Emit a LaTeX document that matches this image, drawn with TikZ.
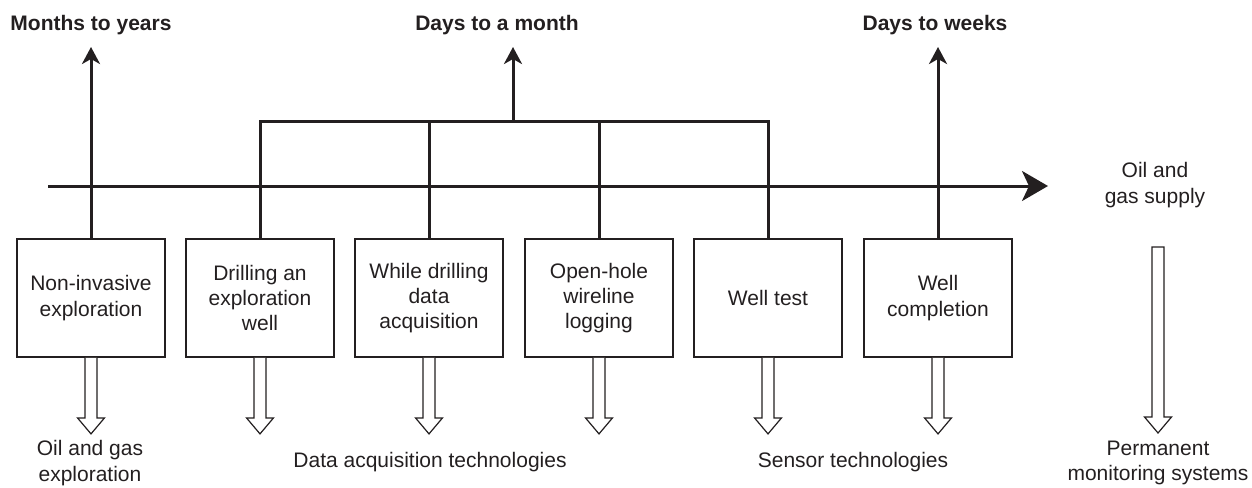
\documentclass[tikz,border=0pt]{standalone}
\usepackage{fontspec}
\setmainfont{Liberation Sans}
\usetikzlibrary{arrows.meta,positioning}
\definecolor{ink}{HTML}{231F20}

\tikzset{
  txt/.style={text=ink, font=\fontsize{10.5pt}{12.7pt}\selectfont},
  stage/.style={txt, draw=ink, line width=0.9pt, minimum width=74pt, minimum height=59pt, align=center, inner sep=2pt},
  period/.style={text=ink, font=\fontsize{10.5pt}{12.5pt}\selectfont\bfseries},
  outcome/.style={txt, align=center},
  link/.style={draw=ink, line width=1.5pt},
  uparrow/.style={link, -{Stealth[length=8.5pt,width=9pt,inset=2.5pt]}},
  pics/hollow/.style={code={
    \draw[ink, line width=0.6pt, fill=white, line join=miter]
      (-6,0) -- (-6,{#1-16}) -- (-13.5,{#1-16}) -- (0,#1) -- (13.5,{#1-16}) -- (6,{#1-16}) -- (6,0);
  }},
  pics/hollowcap/.style={code={
    \draw[ink, line width=0.6pt, fill=white, line join=miter]
      (-6,0) -- (-6,{#1-16}) -- (-13.5,{#1-16}) -- (0,#1) -- (13.5,{#1-16}) -- (6,{#1-16}) -- (6,0) -- cycle;
  }}
}

\begin{document}
\begin{tikzpicture}[x=0.5pt, y=-0.5pt]
    \useasboundingbox (0,0) rectangle (1252,487);

    % time scales
    \node[period] (p1) at (91,25) {Months to years};
    \node[period] (p2) at (497,25) {Days to a month};
    \node[period] (p3) at (935,25) {Days to weeks};
    \coordinate (t1) at (91,47);
    \coordinate (t2) at (513,47);
    \coordinate (t3) at (938,47);

    % timeline
    \coordinate (tl0) at (48,186);
    \coordinate (tl1) at (1048,186);
    \draw[link, -{Stealth[length=13pt,width=15pt,inset=3.5pt]}] (tl0) -- (tl1);
    \node[outcome] (supply) at (1155,185) {Oil and\\gas supply};

    % stages
    \node[stage] (b1) at (91,298)  {Non-invasive\\exploration};
    \node[stage] (b2) at (260,298) {Drilling an\\exploration\\well};
    \node[stage] (b3) at (429,298) {While drilling\\data\\acquisition};
    \node[stage] (b4) at (599,298) {Open-hole\\wireline\\logging};
    \node[stage] (b5) at (768,298) {Well test};
    \node[stage] (b6) at (938,298) {Well\\completion};

    % links up to the time scales
    \draw[uparrow] (b1.north) -- (t1);
    \draw[uparrow] (b6.north) -- (t3);
    \coordinate (br) at (513,121);
    \draw[link] (b2.north) |- (br) -| (b5.north);
    \draw[link] (b3.north) -- (b3.north |- br);
    \draw[link] (b4.north) -- (b4.north |- br);
    \draw[uparrow] (br) -- (t2);

    % hollow arrows
    \foreach \b in {b1,b2,b3,b4,b5,b6} {
        \pic at (\b.south) {hollow=76};
    }
    \pic at (1158,247) {hollowcap=186};

    % outcomes
    \node[outcome] (o1) at (90,463) {Oil and gas\\exploration};
    \node[outcome] (o2) at (430,462) {Data acquisition technologies};
    \node[outcome] (o3) at (853,462) {Sensor technologies};
    \node[outcome] (o4) at (1158,463) {Permanent\\monitoring systems};
\end{tikzpicture}
\end{document}
